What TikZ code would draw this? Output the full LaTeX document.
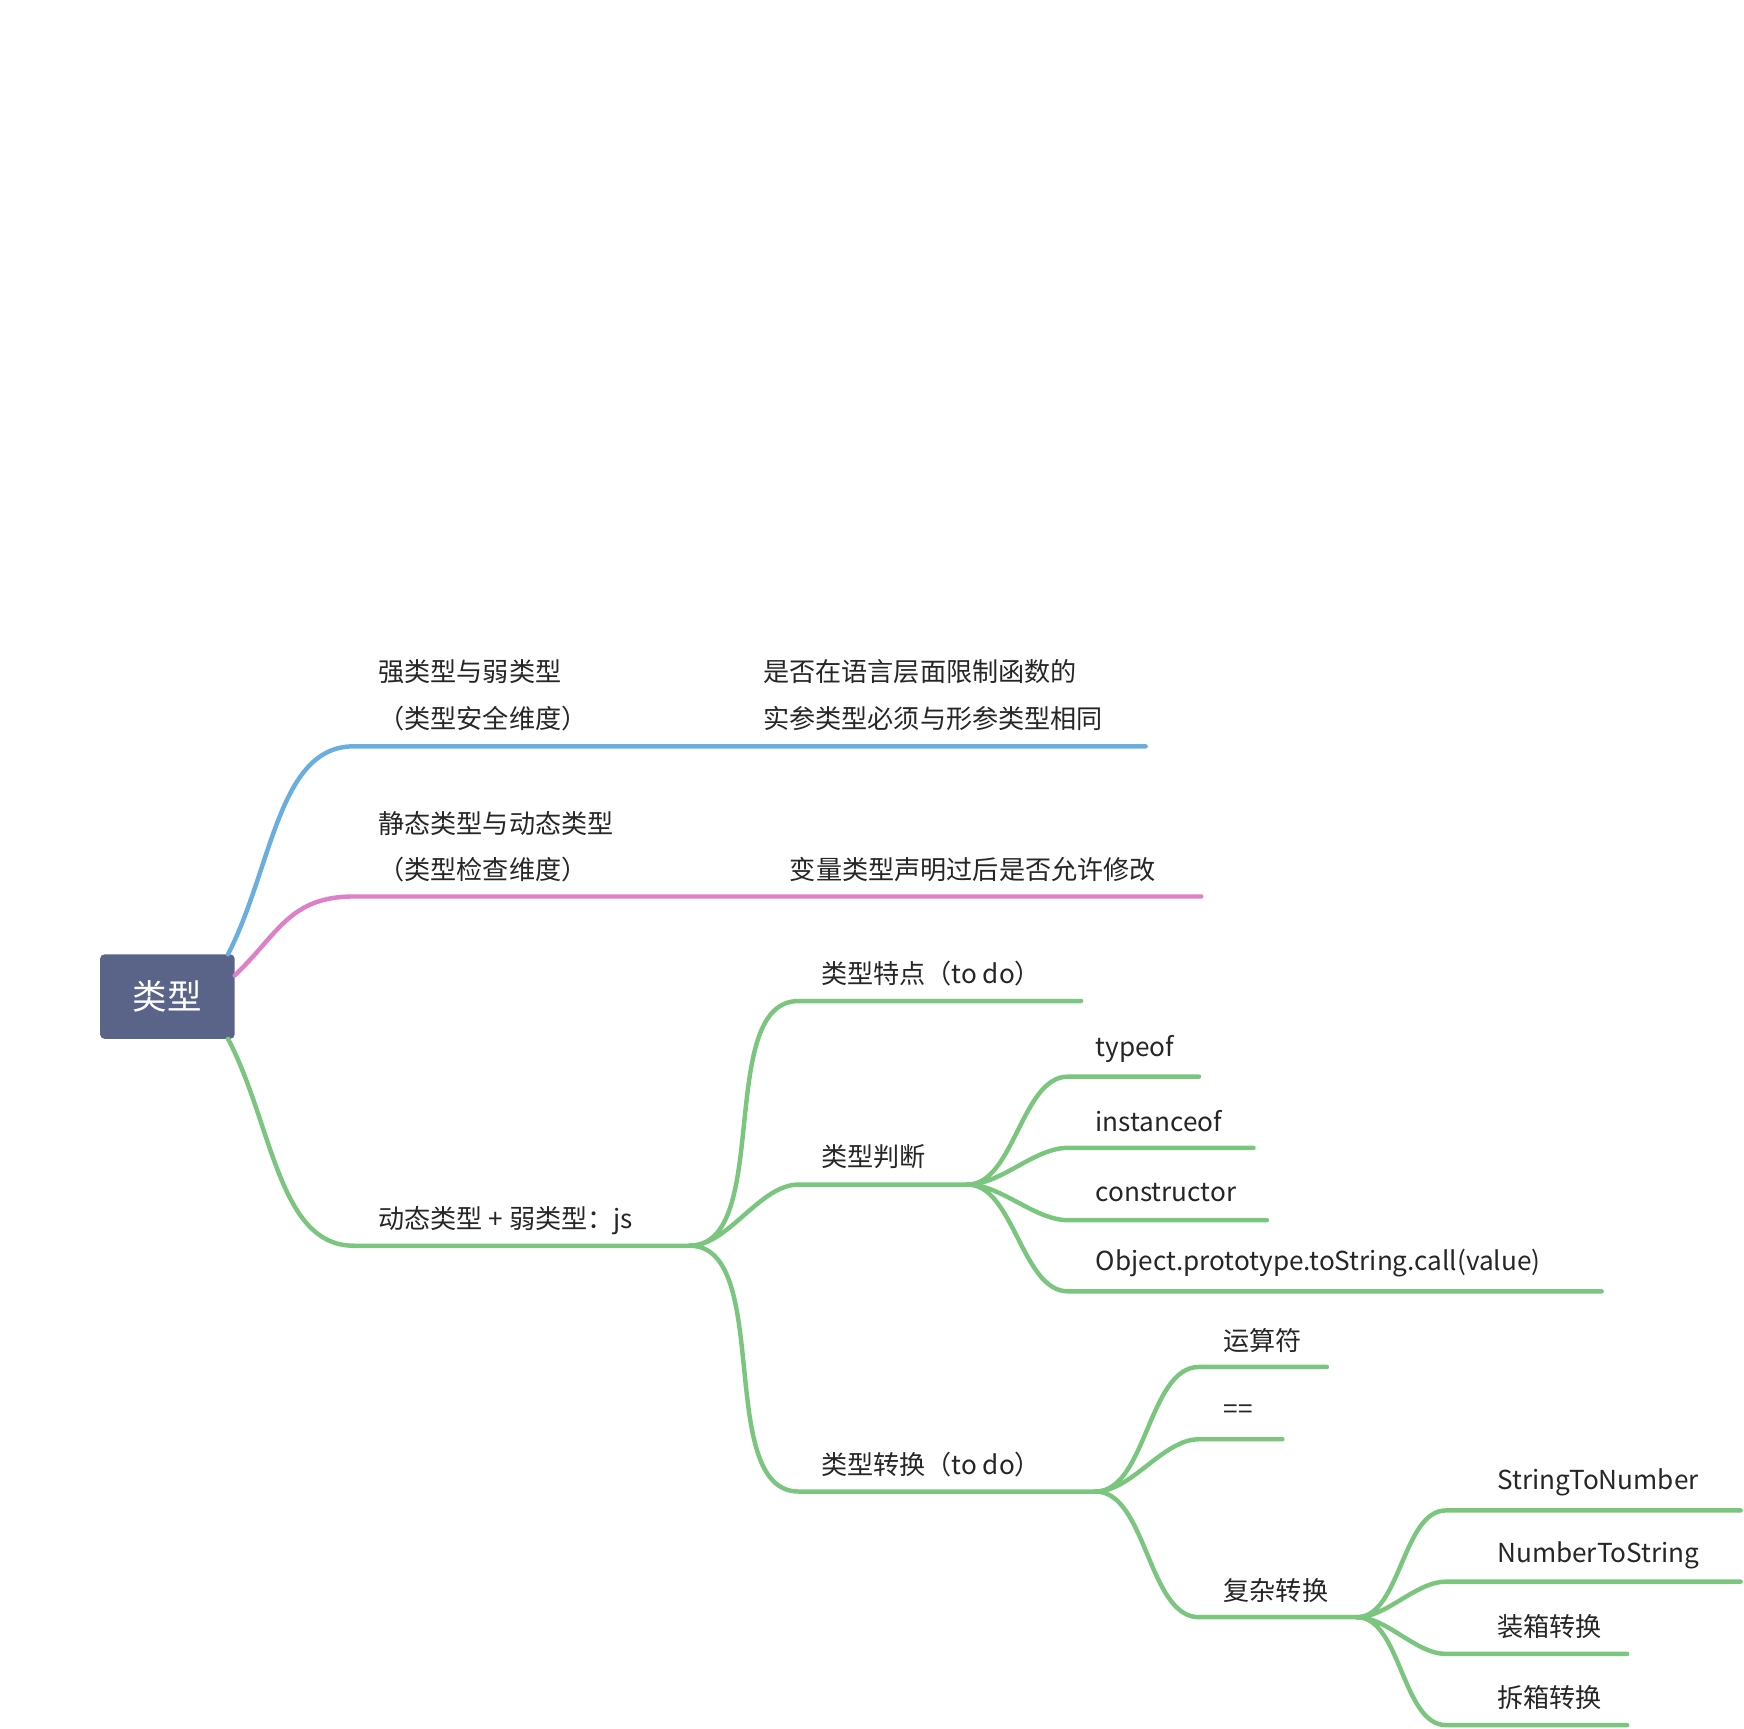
\documentclass[tikz,border=0pt]{standalone}
\usepackage{fontspec}
\setmainfont{Noto Sans CJK SC}
\definecolor{cblue}{HTML}{6AAEE0}
\definecolor{cpink}{HTML}{DD80C8}
\definecolor{cgreen}{HTML}{7BC67E}
\definecolor{croot}{HTML}{5A6488}
\begin{document}
\begin{tikzpicture}[x=1pt,y=-1pt,
  lbl/.style={anchor=west,inner sep=0pt,font=\fontsize{23.5}{27}\selectfont,text=black!85},
  br/.style={line width=4pt,line cap=round}]
\useasboundingbox (0,0) rectangle (1568,1554);
\node[fill=croot,rounded corners=4pt,minimum width=121pt,minimum height=76pt,text=white,font=\fontsize{31}{34}\selectfont] (root) at (150.5,896) {类型};
% anchor coordinates
\coordinate (b1s) at (205,858); \coordinate (b1m) at (318,671); \coordinate (b1e) at (1030,671);
\coordinate (b2s) at (211,877); \coordinate (b2m) at (318,806); \coordinate (b2e) at (1080,806);
\coordinate (g0s) at (205,934); \coordinate (g0m) at (318,1120); \coordinate (g0e) at (620,1120);
\coordinate (t1) at (718,900); \coordinate (t1e) at (972,900);
\coordinate (t2) at (718,1065); \coordinate (t2e) at (870,1065);
\coordinate (t3) at (718,1341); \coordinate (t3e) at (985,1341);
\coordinate (j1) at (960,968); \coordinate (j1e) at (1078,968);
\coordinate (j2) at (960,1032); \coordinate (j2e) at (1127,1032);
\coordinate (j3) at (960,1097); \coordinate (j3e) at (1139,1097);
\coordinate (j4) at (960,1161); \coordinate (j4e) at (1440,1161);
\coordinate (z1) at (1078,1229); \coordinate (z1e) at (1193,1229);
\coordinate (z2) at (1078,1294); \coordinate (z2e) at (1153,1294);
\coordinate (z3) at (1078,1454); \coordinate (z3e) at (1220,1454);
\coordinate (c1) at (1300,1358); \coordinate (c1e) at (1565,1358);
\coordinate (c2) at (1300,1422); \coordinate (c2e) at (1565,1422);
\coordinate (c3) at (1300,1487); \coordinate (c3e) at (1463,1487);
\coordinate (c4) at (1300,1551); \coordinate (c4e) at (1463,1551);
% branches
\draw[br,cblue] (b1s) .. controls (245,780) and (250,671) .. (b1m) -- (b1e);
\draw[br,cpink] (b2s) .. controls (250,840) and (260,806) .. (b2m) -- (b2e);
\draw[br,cgreen] (g0s) .. controls (245,1010) and (250,1120) .. (g0m) -- (g0e);
\foreach \a/\b/\c in {g0e/t1/t1e,g0e/t2/t2e,g0e/t3/t3e,t2e/j1/j1e,t2e/j2/j2e,t2e/j3/j3e,t2e/j4/j4e,t3e/z1/z1e,t3e/z2/z2e,t3e/z3/z3e,z3e/c1/c1e,z3e/c2/c2e,z3e/c3/c3e,z3e/c4/c4e}
  \draw[br,cgreen] (\a) to[out=0,in=180,looseness=0.8] (\b) -- (\c);
% labels
\node[lbl] (l1a) at (340,604) {强类型与弱类型};
\node[lbl] (l1b) at (340,646) {（类型安全维度）};
\node[lbl] (l1c) at (686,604) {是否在语言层面限制函数的};
\node[lbl] (l1d) at (686,646) {实参类型必须与形参类型相同};
\node[lbl] (l2a) at (340,740) {静态类型与动态类型};
\node[lbl] (l2b) at (340,782) {（类型检查维度）};
\node[lbl] (l2c) at (710,782) {变量类型声明过后是否允许修改};
\node[lbl] (l3) at (340,1097) {动态类型 + 弱类型：js};
\node[lbl] (lt1) at (738,875) {类型特点（to do）};
\node[lbl] (lt2) at (738,1040) {类型判断};
\node[lbl] (lt3) at (738,1317) {类型转换（to do）};
\node[lbl] (lj1) at (985,943) {typeof};
\node[lbl] (lj2) at (985,1008) {instanceof};
\node[lbl] (lj3) at (985,1072) {constructor};
\node[lbl] (lj4) at (985,1136) {Object.prototype.toString.call(value)};
\node[lbl] (lz1) at (1100,1205) {运算符};
\node[lbl] (lz2) at (1100,1269) {==};
\node[lbl] (lz3) at (1100,1430) {复杂转换};
\node[lbl] (lc1) at (1346,1333) {StringToNumber};
\node[lbl] (lc2) at (1346,1398) {NumberToString};
\node[lbl] (lc3) at (1346,1462) {装箱转换};
\node[lbl] (lc4) at (1346,1526) {拆箱转换};
\end{tikzpicture}
\end{document}
